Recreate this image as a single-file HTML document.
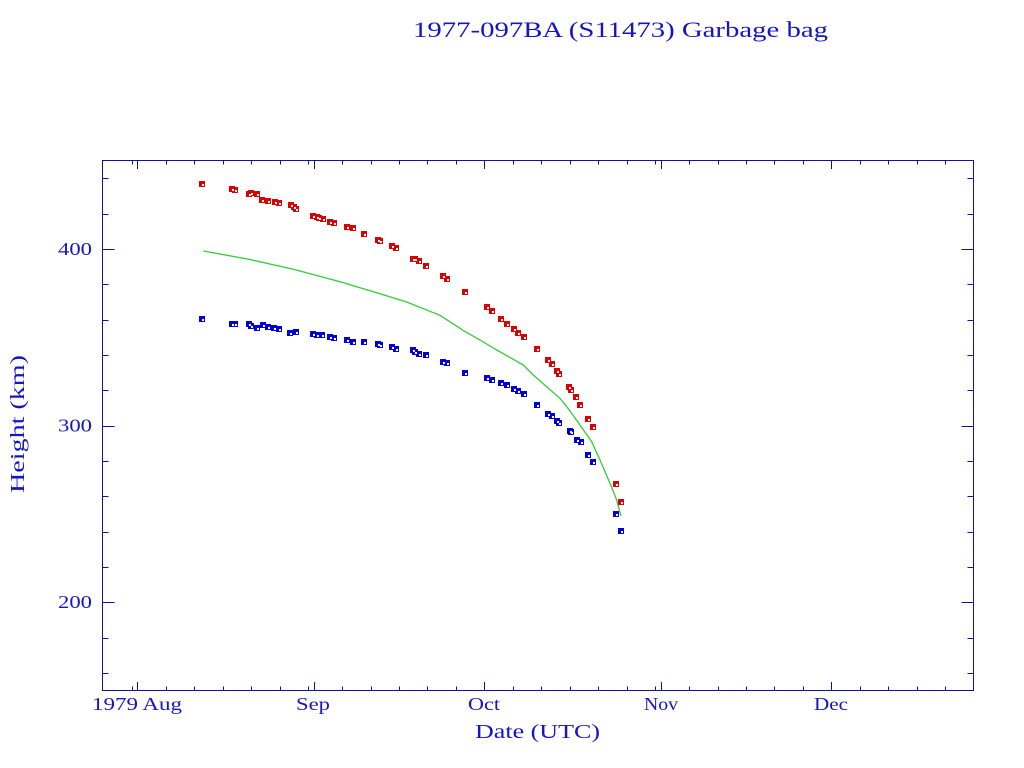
<!DOCTYPE html>
<html><head><meta charset="utf-8"><style>
html,body{margin:0;padding:0;background:#fff;}
svg{display:block;}
text{font-family:"Liberation Serif",serif;fill:#1414c8;}
</style></head><body>
<svg width="1024" height="768" viewBox="0 0 1024 768" xmlns="http://www.w3.org/2000/svg">
<rect width="1024" height="768" fill="#fff"/>
<text x="413" y="37" font-size="22" textLength="415" lengthAdjust="spacingAndGlyphs">1977-097BA (S11473) Garbage bag</text>
<g stroke="#10109c" stroke-width="1.2" fill="none" shape-rendering="crispEdges">
<rect x="102.5" y="160.5" width="871" height="530"/>
<path id="yt" d=""/>
</g>
<g id="ticks" stroke="#10109c" stroke-width="1.2" shape-rendering="crispEdges"></g>
<g id="labels">
<text x="58" y="255" font-size="18" textLength="34" lengthAdjust="spacingAndGlyphs">400</text>
<text x="58" y="431.5" font-size="18" textLength="34" lengthAdjust="spacingAndGlyphs">300</text>
<text x="58" y="608" font-size="18" textLength="34" lengthAdjust="spacingAndGlyphs">200</text>
<text x="92" y="710" font-size="18" textLength="90" lengthAdjust="spacingAndGlyphs">1979 Aug</text>
<text x="296" y="710" font-size="18" textLength="34" lengthAdjust="spacingAndGlyphs">Sep</text>
<text x="468" y="710" font-size="18" textLength="32" lengthAdjust="spacingAndGlyphs">Oct</text>
<text x="644" y="710" font-size="18" textLength="34" lengthAdjust="spacingAndGlyphs">Nov</text>
<text x="814" y="710" font-size="18" textLength="34" lengthAdjust="spacingAndGlyphs">Dec</text>
<text x="475" y="738" font-size="20" textLength="125" lengthAdjust="spacingAndGlyphs">Date (UTC)</text>
<text transform="translate(24,493) rotate(-90)" x="0" y="0" font-size="20" textLength="138" lengthAdjust="spacingAndGlyphs">Height (km)</text>
</g>
<polyline fill="none" stroke="#33cc33" stroke-width="1.3" points="203.3,251 250,259.5 293.3,269.3 313,274.5 340,281.7 373.3,291.7 406.7,302 420,307.3 440,315.3 460,328.3 464,331 480,340 496.7,350 513.3,359.3 523.3,365 533.3,375 546.7,386.7 560,398.3 570,411 580,425 591.7,441.7 600,460 610,483.3 616.7,500 619.3,510 621,516"/>
<g id="red" fill="#dd0000"></g>
<g id="blue" fill="#0000dd"></g>
<g id="notch" fill="#fff"></g>
<script>
(function(){
var NS="http://www.w3.org/2000/svg";
function el(p,t,a){var e=document.createElementNS(NS,t);for(var k in a)e.setAttribute(k,a[k]);p.appendChild(e);return e;}
var tk=document.getElementById("ticks");
function X(d){return 137.3+d*5.689;}
var major=[0,31,61,92,122];
var minor=[-1,5,10,15,20,25,30,36,41,46,51,56,66,71,76,81,86,91,97,102,107,112,117,127,132,137,142];
major.forEach(function(d){var x=Math.round(X(d))+0.5;
 el(tk,"line",{x1:x,y1:690.5,x2:x,y2:682});
 el(tk,"line",{x1:x,y1:160.5,x2:x,y2:169});});
minor.forEach(function(d){var x=Math.round(X(d))+0.5;
 el(tk,"line",{x1:x,y1:690.5,x2:x,y2:686.5});
 el(tk,"line",{x1:x,y1:160.5,x2:x,y2:164.5});});
for(var h=160;h<=440;h+=20){var y=Math.round(160.5+(450-h)*1.76667)+0.5;var L=(h%100==0)?12:6;
 el(tk,"line",{x1:102.5,y1:y,x2:102.5+L,y2:y});
 el(tk,"line",{x1:973.5,y1:y,x2:973.5-L,y2:y});}
var red=[[202.3,184],[231.7,188.7],[235,190.3],[249.3,194],[251,192.7],[256.7,194],[262.3,200],[268,201],[274.7,202],[278.7,202.7],[290.7,204.7],[294,206.7],[296.3,209.3],[313.3,215.7],[317,217],[319,218],[322.7,219.3],[330.3,222],[334.3,222.7],[346.7,227],[352.7,228.3],[363.7,234],[378.3,239.7],[380,241.3],[391.7,246.3],[396,248.3],[412.7,259],[414.7,259.3],[419,260.7],[425.7,266.3],[442.7,276],[446.7,279],[464.7,292],[487.3,307.3],[492.3,311.3],[501.3,319],[507.3,324],[514.3,329.3],[518.3,332.7],[523.7,336.7],[537.3,349],[548.3,360],[551.7,364],[557.3,370.7],[559.3,374],[569.3,386.7],[571,389.7],[576.3,397],[580.3,405],[588.3,419],[593,426.7],[616.3,484],[621.3,501.7]];
var blue=[[202.3,319],[232.3,324],[235,323.7],[249.3,324],[251.3,326],[257,327.7],[262.7,325.3],[268.3,326.7],[274,327.7],[278.7,329.3],[290,333],[296,332],[313.3,334],[316.7,335],[322.3,335],[330.3,337],[334.3,337.7],[346.7,340],[352.7,341.7],[363.7,342],[378.3,344],[380,345],[391.7,346.7],[396,348.7],[412.7,350],[414.7,352.3],[419,354.3],[425.7,355],[442.7,361.7],[446.7,362.7],[464.7,372.7],[487.3,378],[492.3,380],[501.3,382.7],[507.3,385.3],[514.3,389],[518.3,390.7],[523.7,394],[537.3,405],[548.3,414],[551.7,416.3],[557.3,421.3],[559.3,422.7],[569.7,430.7],[571.3,432.3],[576.7,440],[580.7,442.3],[588.3,455],[593,462.3],[616.3,514],[621.3,530.7]];
var gr=document.getElementById("red"),gb=document.getElementById("blue"),gn=document.getElementById("notch");
function mk(g,p){var x=Math.round(p[0]-3),y=Math.round(p[1]-3);
 el(g,"rect",{x:x,y:y,width:6,height:6});
 el(gn,"rect",{x:x+3,y:y+3,width:2,height:2});}
red.forEach(function(p){mk(gr,p);});
blue.forEach(function(p){mk(gb,p);});
})();
</script>
</svg>
</body></html>
